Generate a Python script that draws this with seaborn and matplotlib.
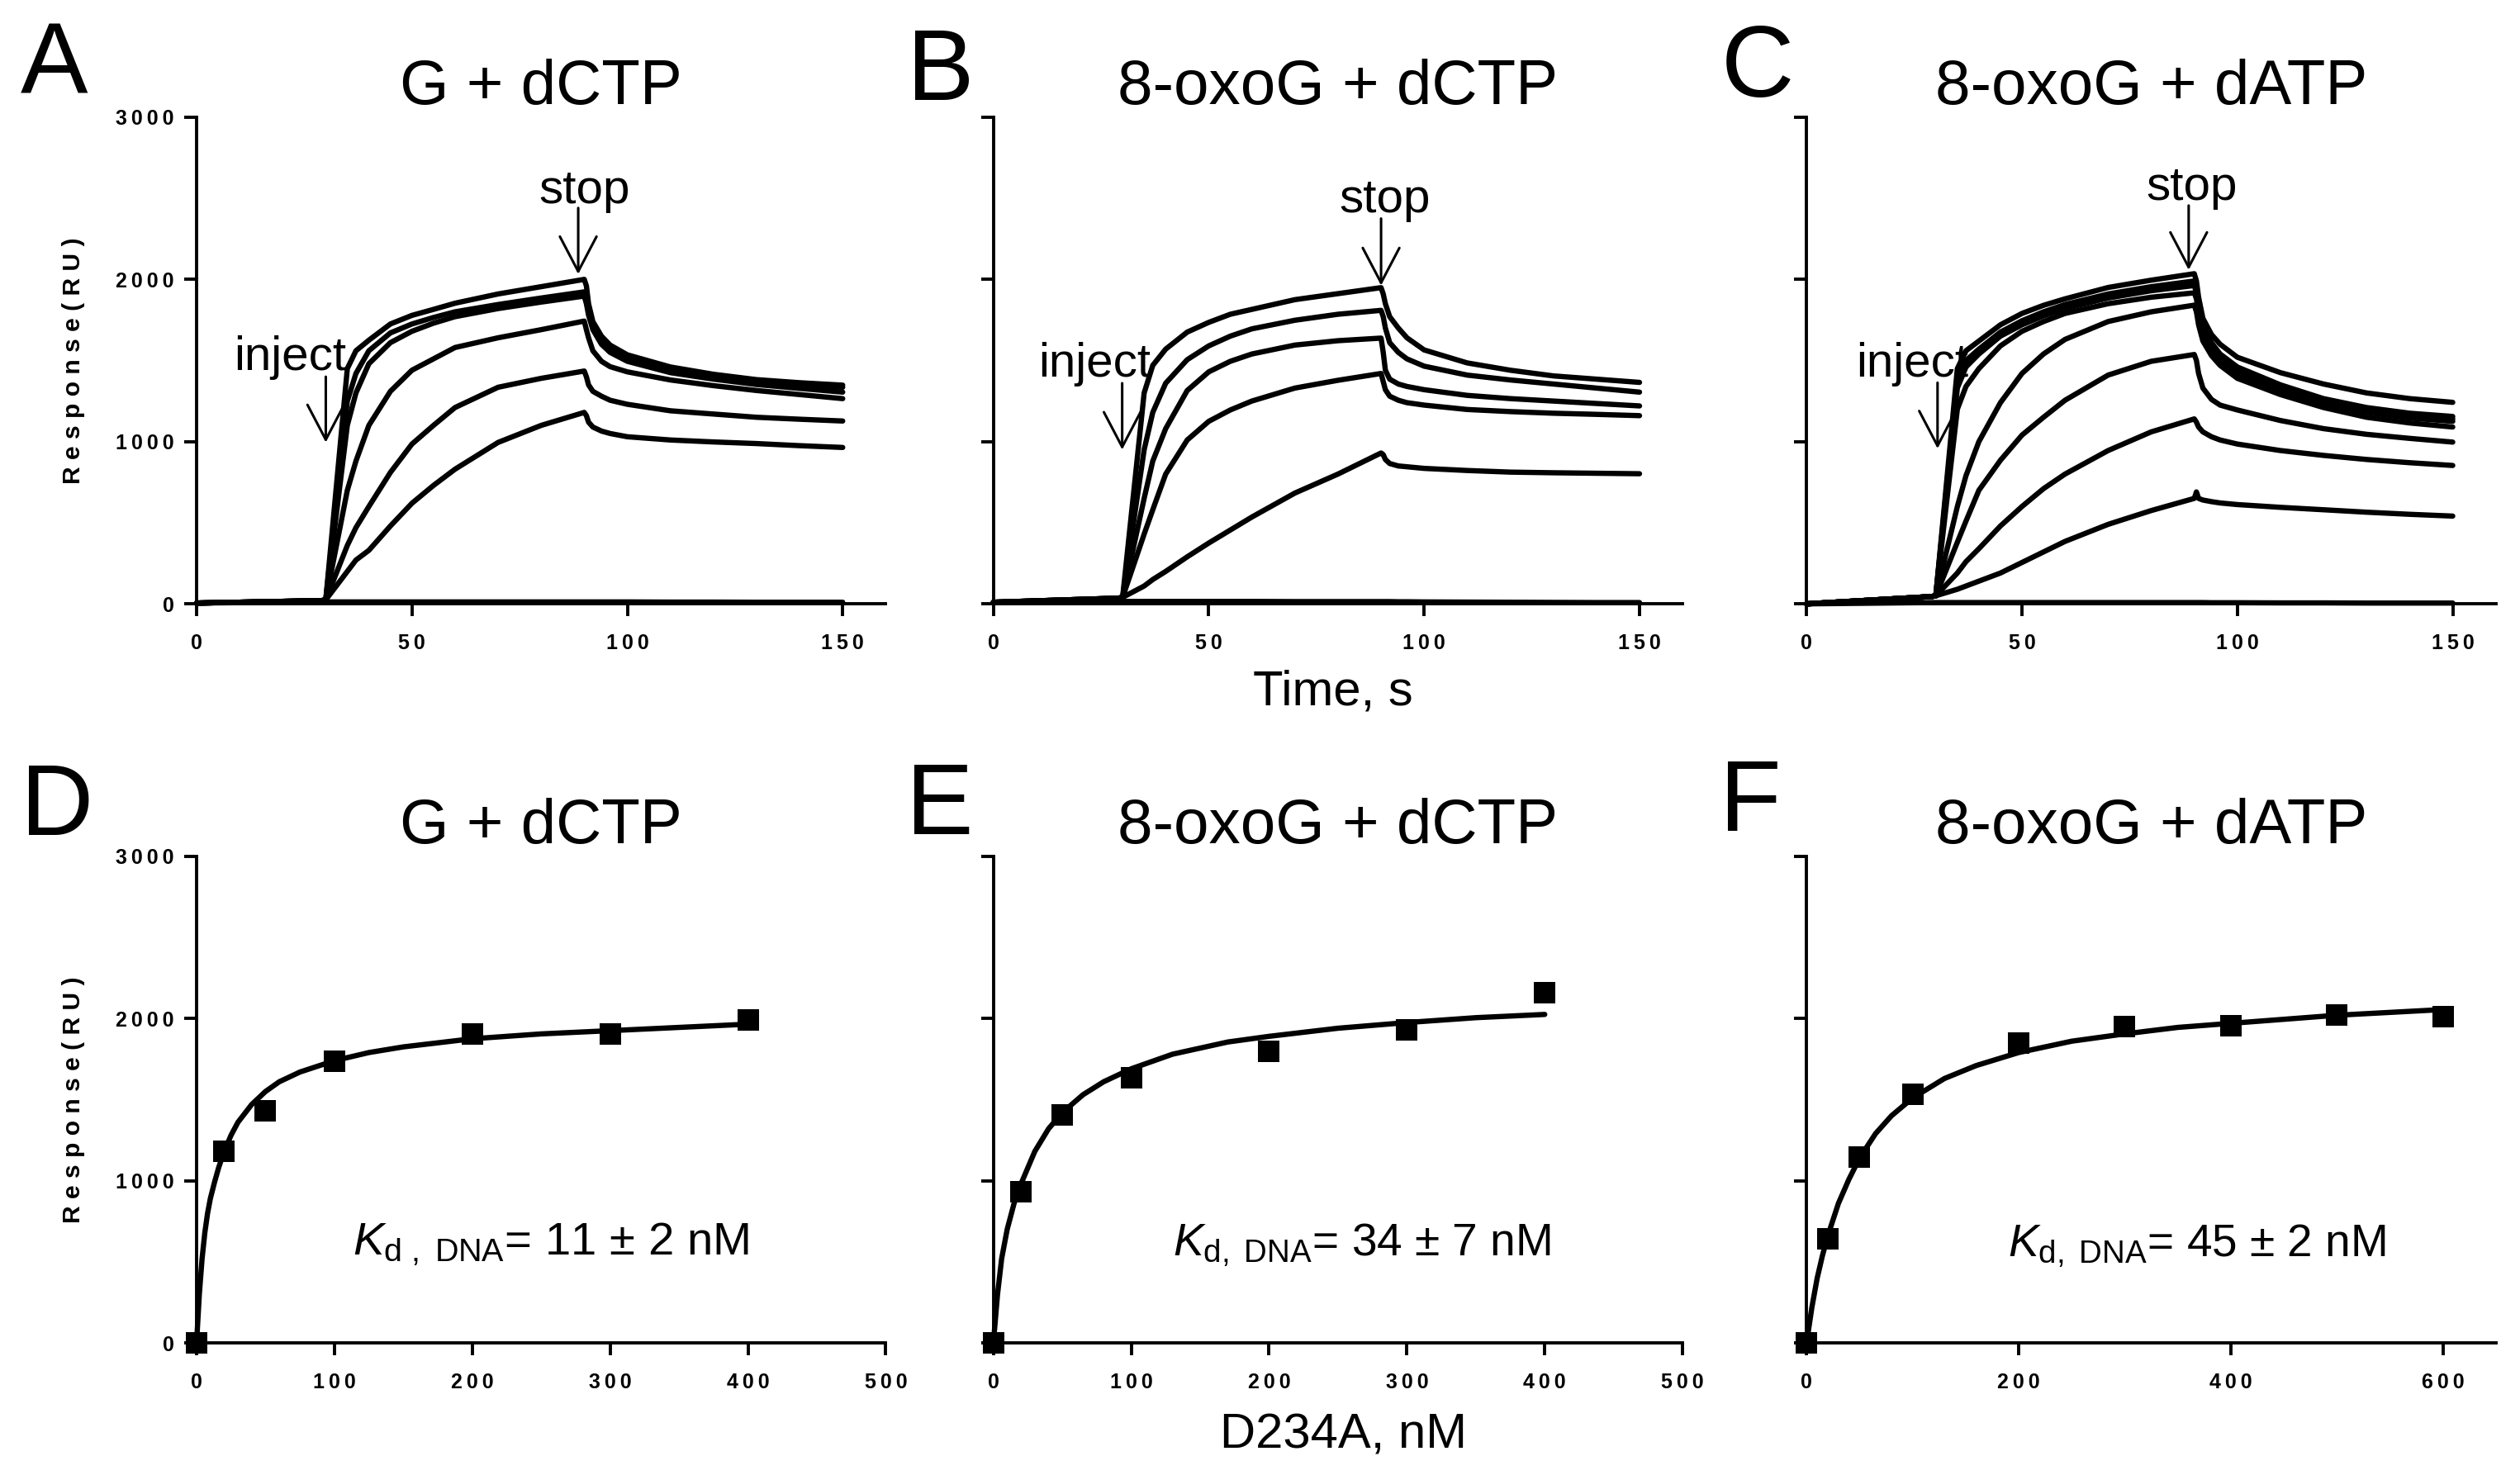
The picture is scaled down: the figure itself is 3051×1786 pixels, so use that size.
import matplotlib
matplotlib.use("Agg")
import numpy as np
import pandas as pd
import matplotlib.pyplot as plt
import seaborn as sns

# ---------------- data ----------------
time_s = [0, 29, 30, 35, 37, 40, 45, 50, 55, 60, 70, 80, 90, 90.5, 91, 92, 94, 96, 100, 110, 120, 130, 140, 150]

# Panel A: G + dCTP sensorgrams (RU)
A_blank = [5, 12, 12, 12, 12, 12, 12, 12, 12, 12, 12, 12, 12, 12, 12, 12, 12, 12, 12, 11, 11, 10, 10, 10]
A_c1 = [5, 20, 25, 1450, 1560, 1625, 1725, 1778, 1815, 1853, 1910, 1955, 2000, 1960, 1850, 1740, 1650, 1595, 1535, 1460, 1415, 1382, 1363, 1348]
A_c2 = [5, 20, 25, 1250, 1420, 1560, 1670, 1725, 1765, 1800, 1845, 1885, 1923, 1880, 1810, 1720, 1630, 1580, 1520, 1450, 1410, 1378, 1356, 1335]
A_c3 = [5, 20, 25, 1100, 1300, 1480, 1610, 1680, 1730, 1770, 1820, 1860, 1897, 1850, 1780, 1690, 1600, 1550, 1495, 1425, 1385, 1352, 1328, 1305]
A_c4 = [5, 20, 25, 700, 880, 1100, 1310, 1440, 1510, 1580, 1640, 1690, 1743, 1690, 1640, 1560, 1495, 1462, 1430, 1380, 1345, 1315, 1290, 1265]
A_c5 = [5, 20, 25, 360, 470, 600, 810, 985, 1100, 1210, 1335, 1390, 1435, 1400, 1350, 1310, 1280, 1255, 1230, 1190, 1170, 1150, 1138, 1127]
A_c6 = [5, 20, 25, 200, 270, 330, 480, 620, 730, 830, 995, 1100, 1180, 1160, 1120, 1090, 1065, 1050, 1030, 1010, 998, 988, 975, 964]

# Panel B: 8-oxoG + dCTP sensorgrams (RU)
B_blank = [10, 15, 15, 15, 15, 15, 15, 15, 15, 15, 14, 14, 14, 14, 14, 14, 13, 13, 12, 11, 10, 9, 8, 8]
B_c1 = [10, 35, 40, 1300, 1470, 1570, 1675, 1735, 1785, 1815, 1875, 1912, 1949, 1910, 1850, 1770, 1700, 1640, 1565, 1485, 1440, 1405, 1385, 1365]
B_c2 = [10, 35, 40, 950, 1180, 1360, 1505, 1590, 1650, 1695, 1748, 1785, 1809, 1770, 1700, 1610, 1550, 1510, 1465, 1410, 1380, 1355, 1330, 1305]
B_c3 = [10, 35, 40, 650, 880, 1080, 1315, 1430, 1495, 1540, 1595, 1622, 1638, 1550, 1440, 1385, 1355, 1340, 1320, 1285, 1265, 1250, 1235, 1220]
B_c4 = [10, 35, 40, 430, 580, 800, 1010, 1125, 1195, 1250, 1330, 1378, 1420, 1370, 1320, 1280, 1255, 1240, 1225, 1198, 1185, 1175, 1168, 1160]
B_c5 = [10, 35, 40, 110, 150, 200, 290, 375, 455, 535, 683, 800, 930, 920, 890, 865, 850, 845, 835, 822, 812, 808, 805, 802]

# Panel C: 8-oxoG + dATP sensorgrams (RU)
C_blank = [0, 8, 8, 8, 8, 8, 8, 8, 8, 8, 8, 8, 8, 8, 8, 8, 7, 7, 7, 6, 6, 5, 5, 5]
C_c1 = [0, 45, 50, 1450, 1560, 1620, 1720, 1790, 1840, 1880, 1950, 1995, 2035, 1990, 1890, 1760, 1660, 1600, 1520, 1425, 1355, 1300, 1265, 1242]
C_c2 = [0, 45, 50, 1380, 1500, 1570, 1675, 1745, 1800, 1845, 1910, 1955, 1990, 1950, 1860, 1720, 1610, 1540, 1460, 1350, 1265, 1210, 1175, 1155]
C_c3 = [0, 45, 50, 1330, 1460, 1540, 1650, 1720, 1775, 1820, 1885, 1930, 1962, 1920, 1830, 1700, 1590, 1520, 1440, 1330, 1245, 1195, 1160, 1140]
C_c4 = [0, 45, 50, 1200, 1340, 1450, 1590, 1680, 1740, 1790, 1850, 1890, 1917, 1880, 1790, 1670, 1570, 1500, 1420, 1310, 1230, 1180, 1145, 1125]
C_c5 = [0, 45, 50, 600, 790, 1000, 1240, 1420, 1540, 1630, 1740, 1800, 1841, 1800, 1720, 1620, 1530, 1470, 1390, 1290, 1210, 1150, 1115, 1090]
C_c6 = [0, 45, 50, 380, 510, 700, 885, 1040, 1150, 1255, 1410, 1495, 1537, 1500, 1420, 1330, 1260, 1225, 1195, 1130, 1080, 1045, 1020, 997]
C_c7 = [0, 45, 50, 190, 260, 340, 480, 600, 710, 800, 945, 1060, 1140, 1120, 1090, 1060, 1030, 1010, 985, 945, 915, 890, 870, 853]
C_c8 = [0, 45, 50, 90, 110, 140, 190, 255, 320, 385, 490, 575, 650, 690, 650, 640, 630, 622, 612, 595, 580, 565, 552, 541]

# Equilibrium binding (D234A, nM  vs  Response, RU)
D_conc = [0, 20, 50, 100, 200, 300, 400]
D_resp = [0, 1180, 1432, 1736, 1904, 1904, 1991]
D_fit_x = [0, 2, 4, 6, 8, 10, 13, 16, 20, 25, 30, 40, 50, 60, 75, 100, 125, 150, 200, 250, 300, 350, 400]
D_fit_y = [0, 300, 520, 680, 800, 890, 990, 1080, 1180, 1280, 1360, 1470, 1550, 1610, 1670, 1740, 1790, 1825, 1875, 1905, 1925, 1945, 1965]

E_conc = [0, 20, 50, 100, 200, 300, 400]
E_resp = [0, 931, 1408, 1633, 1798, 1928, 2159]
E_fit_x = [0, 3, 6, 10, 15, 20, 30, 40, 50, 65, 80, 100, 130, 170, 200, 250, 300, 350, 400]
E_fit_y = [0, 300, 520, 700, 860, 980, 1180, 1320, 1420, 1530, 1610, 1690, 1780, 1855, 1890, 1940, 1975, 2005, 2025]

F_conc = [0, 20, 50, 100, 200, 300, 400, 500, 600]
F_resp = [0, 642, 1148, 1535, 1846, 1948, 1956, 2023, 2009]
F_fit_x = [0, 5, 10, 15, 20, 30, 40, 50, 65, 80, 100, 130, 160, 200, 250, 300, 350, 400, 500, 600]
F_fit_y = [0, 220, 400, 540, 660, 860, 1010, 1140, 1290, 1400, 1510, 1630, 1710, 1790, 1860, 1905, 1945, 1970, 2020, 2055]

top_titles = ["G + dCTP", "8-oxoG + dCTP", "8-oxoG + dATP"]
bottom_titles = ["G + dCTP", "8-oxoG + dCTP", "8-oxoG + dATP"]
panel_letters = ["A", "B", "C", "D", "E", "F"]
kd_labels = [r"$\mathit{K}_{\mathrm{d\ ,\ DNA}}$= 11 ± 2 nM",
             r"$\mathit{K}_{\mathrm{d,\ DNA}}$= 34 ± 7 nM",
             r"$\mathit{K}_{\mathrm{d,\ DNA}}$= 45 ± 2 nM"]
y_label = "Response(RU)"
top_xlabel = "Time, s"
bottom_xlabel = "D234A, nM"
y_ticks = [0, 1000, 2000, 3000]
top_xticks = [0, 50, 100, 150]
bottom_xticks = [[0, 100, 200, 300, 400, 500], [0, 100, 200, 300, 400, 500], [0, 200, 400, 600]]

sensor_panels = [
    [A_blank, A_c1, A_c2, A_c3, A_c4, A_c5, A_c6],
    [B_blank, B_c1, B_c2, B_c3, B_c4, B_c5],
    [C_blank, C_c1, C_c2, C_c3, C_c4, C_c5, C_c6, C_c7, C_c8],
]
binding_panels = [
    (D_conc, D_resp, D_fit_x, D_fit_y),
    (E_conc, E_resp, E_fit_x, E_fit_y),
    (F_conc, F_resp, F_fit_x, F_fit_y),
]

# ---------------- style ----------------
sns.set_theme(style="ticks")
plt.rcParams["font.family"] = ["Liberation Sans", "DejaVu Sans"]
plt.rcParams["mathtext.fontset"] = "custom"
plt.rcParams["mathtext.rm"] = "Liberation Sans"
plt.rcParams["mathtext.it"] = "Liberation Sans:italic"
plt.rcParams["mathtext.bf"] = "Liberation Sans:bold"
plt.rcParams["axes.linewidth"] = 1.4
plt.rcParams["text.color"] = "black"
plt.rcParams["axes.labelcolor"] = "black"
plt.rcParams["xtick.color"] = "black"
plt.rcParams["ytick.color"] = "black"
plt.rcParams["axes.edgecolor"] = "black"


def spaced(s):
    return "\u2009".join(str(s))


fig = plt.figure(figsize=(15.255, 8.93), dpi=200)
lefts = [0.078, 0.3942, 0.7169]
AW = 0.2735
AH = 0.330
top_bottom = 0.5906
bot_bottom = 0.0895
LW = 2.3


def style_axis(ax, xticks, xlim, show_ylabels):
    sns.despine(ax=ax)
    ax.set_xlim(*xlim)
    ax.set_ylim(0, 3000)
    ax.set_xticks(xticks)
    ax.set_xticklabels([spaced(v) for v in xticks], fontweight="bold", fontsize=9, color="black")
    ax.set_yticks(y_ticks)
    if show_ylabels:
        ax.set_yticklabels([spaced(v) for v in y_ticks], fontweight="bold", fontsize=9, color="black")
    else:
        ax.set_yticklabels([])
    ax.tick_params(axis="both", direction="out", length=5.3, width=1.4, colors="black")
    ax.tick_params(axis="x", pad=7.5)
    ax.tick_params(axis="y", pad=4.5)
    ax.set_xlabel("")
    ax.set_ylabel("")
    for sp in ax.spines.values():
        sp.set_color("black")
        sp.set_linewidth(1.4)
    ax.set_facecolor("none")
    if show_ylabels:
        ax.text(-0.178, 0.5, " ".join(y_label), transform=ax.transAxes, rotation=90,
                ha="center", va="center", fontsize=10.8, fontweight="bold", color="black")


# arrow / label positions in data coordinates (time, RU)
inject_pos = [(30.0, 1400, 995, 21.7, 1440), (29.9, 1360, 950, 23.5, 1400), (30.4, 1363, 957, 24.5, 1400)]
stop_pos = [(88.6, 2440, 2032, 90.0, 2470), (90.0, 2375, 1962, 90.8, 2415), (88.7, 2455, 2058, 89.4, 2488)]
arrow_style = "->,head_length=0.8,head_width=0.42"

# ---------------- top row: sensorgrams ----------------
for i, curves in enumerate(sensor_panels):
    ax = fig.add_axes([lefts[i], top_bottom, AW, AH])
    rows = []
    for k, vals in enumerate(curves):
        for t, v in zip(time_s, vals):
            rows.append({"t": t, "RU": v, "curve": k})
    df = pd.DataFrame(rows)
    sns.lineplot(data=df, x="t", y="RU", units="curve", estimator=None, color="black",
                 lw=LW, sort=False, legend=False, ax=ax)
    for ln in ax.lines:
        ln.set_clip_on(False)
        ln.set_solid_joinstyle("round")
    style_axis(ax, top_xticks, (0, 160), i == 0)
    ax.set_title(top_titles[i], fontsize=27.5, pad=4, color="black")

    x, tail, tip, tx, ty = inject_pos[i]
    ax.annotate("", xy=(x, tip), xytext=(x, tail),
                arrowprops=dict(arrowstyle=arrow_style, lw=1.1, color="black",
                                shrinkA=0, shrinkB=0, mutation_scale=19))
    ax.text(tx, ty, "inject", ha="center", va="baseline", fontsize=21, color="black")
    x, tail, tip, tx, ty = stop_pos[i]
    ax.annotate("", xy=(x, tip), xytext=(x, tail),
                arrowprops=dict(arrowstyle=arrow_style, lw=1.1, color="black",
                                shrinkA=0, shrinkB=0, mutation_scale=19))
    ax.text(tx, ty, "stop", ha="center", va="baseline", fontsize=21, color="black")

# ---------------- bottom row: binding isotherms ----------------
kd_pos = [(113, 542), (130, 540), (190, 532)]
kd_sizes = [20.3, 19.8, 19.8]
bottom_xlims = [(0, 500), (0, 500), (0, 650)]
for i, (cx, cy, fx, fy) in enumerate(binding_panels):
    ax = fig.add_axes([lefts[i], bot_bottom, AW, AH])
    sns.lineplot(x=fx, y=fy, color="black", lw=LW, sort=False, legend=False, ax=ax)
    sns.scatterplot(x=cx, y=cy, marker="s", s=90, color="black", edgecolor="black",
                    linewidth=0, legend=False, ax=ax, zorder=3)
    for ln in ax.lines:
        ln.set_clip_on(False)
    for col in ax.collections:
        col.set_clip_on(False)
    style_axis(ax, bottom_xticks[i], bottom_xlims[i], i == 0)
    ax.set_title(bottom_titles[i], fontsize=27.5, pad=3, color="black")
    kx, ky = kd_pos[i]
    ax.text(kx, ky, kd_labels[i], ha="left", va="baseline", fontsize=kd_sizes[i], color="black")

# ---------------- figure-level texts ----------------
letter_pos = [(0.008, 0.9367), (0.360, 0.9323), (0.683, 0.9345),
              (0.0083, 0.434), (0.3597, 0.4345), (0.6824, 0.4367)]
for L, (lx, ly) in zip(panel_letters, letter_pos):
    fig.text(lx, ly, L, ha="left", va="baseline", fontsize=44, color="black")

fig.text(0.529, 0.531, top_xlabel, ha="center", va="center", fontsize=21.5, color="black")
fig.text(0.533, 0.027, bottom_xlabel, ha="center", va="center", fontsize=21.5, color="black")

fig.savefig("out.png", dpi=200, facecolor="white")
